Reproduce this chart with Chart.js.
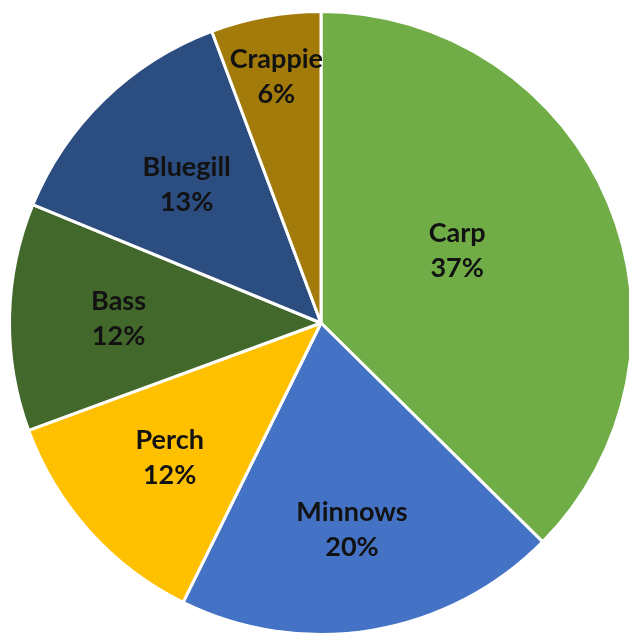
<!DOCTYPE html>
<html>
<head>
<meta charset="utf-8">
<script src="https://cdn.jsdelivr.net/npm/chart.js@4.4.1/dist/chart.umd.min.js"></script>
<style>
  html, body { margin: 0; padding: 0; background: #fff; overflow: hidden; }
  #wrap { position: absolute; left: 0; top: 0; width: 642px; height: 646px; }
</style>
</head>
<body>
<div id="wrap"><canvas id="fishChart" width="642" height="646"></canvas></div>
<script>
// data (slice sizes in percent)
const fishNames = ["Carp", "Minnows", "Perch", "Bass", "Bluegill", "Crappie"];
const fishShare = [37.4, 19.9, 12.1, 11.8, 13.1, 5.7];
const fishColors = ["#70AD47", "#4472C4", "#FFC000", "#43682B", "#2C4D80", "#A27B0A"];

// where each label sits: fraction of radius, and a small turn (degrees) off the slice middle
const labelRadius = [0.495, 0.67, 0.65, 0.65, 0.62, 0.805];
const labelTurn = [-5.3, 1, 0.3, 0.3, 0, 0];

const sliceLabels = {
  id: "sliceLabels",
  afterDatasetsDraw(chart) {
    const ctx = chart.ctx;
    const meta = chart.getDatasetMeta(0);
    const total = fishShare.reduce((a, b) => a + b, 0);
    ctx.save();
    ctx.fillStyle = "#121212";
    ctx.font = "bold 27px Lato";
    ctx.textAlign = "center";
    ctx.textBaseline = "middle";
    meta.data.forEach((arc, i) => {
      const p = arc.getProps(["x", "y", "startAngle", "endAngle", "outerRadius"], true);
      const mid = (p.startAngle + p.endAngle) / 2 + labelTurn[i] * Math.PI / 180;
      const r = p.outerRadius * labelRadius[i];
      const x = p.x + Math.cos(mid) * r;
      const y = p.y + Math.sin(mid) * r;
      const pct = Math.round(fishShare[i] / total * 100) + "%";
      ctx.fillText(fishNames[i], x, y - 17);
      ctx.fillText(pct, x, y + 18);
    });
    ctx.restore();
  }
};

new Chart(document.getElementById("fishChart"), {
  type: "pie",
  data: {
    labels: fishNames,
    datasets: [{
      data: fishShare,
      backgroundColor: fishColors,
      borderColor: "#ffffff",
      borderWidth: 3
    }]
  },
  options: {
    responsive: false,
    animation: false,
    layout: { padding: { left: 8, right: 8, top: 10, bottom: 10 } },
    plugins: {
      legend: { display: false },
      tooltip: { enabled: false }
    }
  },
  plugins: [sliceLabels]
});
</script>
</body>
</html>
